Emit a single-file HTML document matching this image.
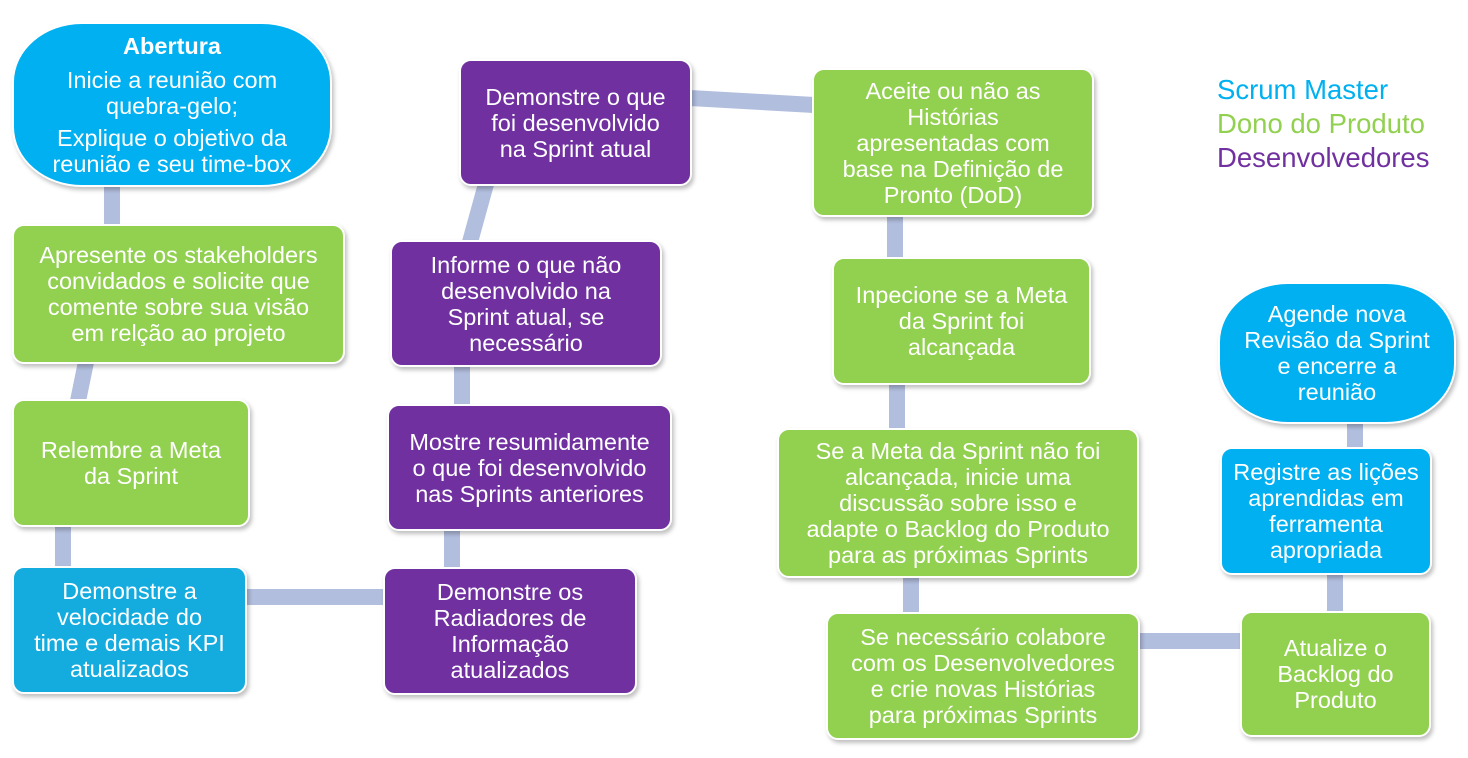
<!DOCTYPE html>
<html><head><meta charset="utf-8"><style>
body{margin:0;width:1468px;height:758px;background:#fff;position:relative;overflow:hidden;font-family:"Liberation Sans",sans-serif}
.b{position:absolute;box-sizing:border-box;display:flex;flex-direction:column;align-items:center;justify-content:center;text-align:center;color:#fff;font-size:23.5px;line-height:26px;border-radius:12px;box-shadow:2px 3px 4px rgba(0,0,0,.25);border:2px solid #fff;padding:0 4px;white-space:nowrap}
.g{background:#92D050}.p{background:#7030A0}.c{background:#00B0F0}.c2{background:#14ACDF}
.t{border-radius:70px/60px}
.l{position:absolute;font-size:27.5px;line-height:34px}
</style></head><body>
<svg width="1468" height="758" style="position:absolute;left:0;top:0">
<g stroke="#B2BEDE" stroke-width="16" fill="none">
<line x1="112" y1="185" x2="112" y2="226"/>
<line x1="86" y1="362" x2="78" y2="401"/>
<line x1="63" y1="525" x2="63" y2="568"/>
<line x1="245" y1="597" x2="385" y2="597"/>
<line x1="452" y1="529" x2="452" y2="569"/>
<line x1="462" y1="365" x2="462" y2="406"/>
<line x1="470" y1="242" x2="486" y2="184"/>
<line x1="690" y1="98" x2="814" y2="105"/>
<line x1="895" y1="215" x2="895" y2="259"/>
<line x1="897" y1="383" x2="897" y2="430"/>
<line x1="911" y1="576" x2="911" y2="614"/>
<line x1="1138" y1="641" x2="1242" y2="641"/>
<line x1="1335" y1="573" x2="1335" y2="613"/>
<line x1="1355" y1="422" x2="1355" y2="449"/>
</g></svg>
<div class="b c t" style="left:12px;top:22px;width:320px;height:165px"><b style="margin-bottom:8px">Abertura</b><div>Inicie a reunião com<br>quebra-gelo;</div><div style="margin-top:6px">Explique o objetivo da<br>reunião e seu time-box</div></div>
<div class="b g" style="left:12px;top:224px;width:333px;height:140px">Apresente os stakeholders<br>convidados e solicite que<br>comente sobre sua visão<br>em relção ao projeto</div>
<div class="b g" style="left:12px;top:399px;width:238px;height:128px">Relembre a Meta<br>da Sprint</div>
<div class="b c2" style="left:12px;top:566px;width:235px;height:128px">Demonstre a<br>velocidade do<br>time e demais KPI<br>atualizados</div>
<div class="b p" style="left:383px;top:567px;width:254px;height:128px">Demonstre os<br>Radiadores de<br>Informação<br>atualizados</div>
<div class="b p" style="left:387px;top:404px;width:285px;height:127px">Mostre resumidamente<br>o que foi desenvolvido<br>nas Sprints anteriores</div>
<div class="b p" style="left:390px;top:240px;width:272px;height:127px">Informe o que não<br>desenvolvido na<br>Sprint atual, se<br>necessário</div>
<div class="b p" style="left:459px;top:59px;width:233px;height:127px">Demonstre o que<br>foi desenvolvido<br>na Sprint atual</div>
<div class="b g" style="left:812px;top:68px;width:282px;height:149px">Aceite ou não as<br>Histórias<br>apresentadas com<br>base na Definição de<br>Pronto (DoD)</div>
<div class="b g" style="left:832px;top:257px;width:259px;height:128px">Inpecione se a Meta<br>da Sprint foi<br>alcançada</div>
<div class="b g" style="left:777px;top:428px;width:362px;height:150px">Se a Meta da Sprint não foi<br>alcançada, inicie uma<br>discussão sobre isso e<br>adapte o Backlog do Produto<br>para as próximas Sprints</div>
<div class="b g" style="left:826px;top:612px;width:314px;height:128px">Se necessário colabore<br>com os Desenvolvedores<br>e crie novas Histórias<br>para próximas Sprints</div>
<div class="b g" style="left:1240px;top:611px;width:191px;height:126px">Atualize o<br>Backlog do<br>Produto</div>
<div class="b c" style="left:1220px;top:447px;width:212px;height:128px">Registre as lições<br>aprendidas em<br>ferramenta<br>apropriada</div>
<div class="b c t" style="left:1218px;top:282px;width:238px;height:142px">Agende nova<br>Revisão da Sprint<br>e encerre a<br>reunião</div>
<div class="l" style="left:1217px;top:73px;color:#00B0F0">Scrum Master</div>
<div class="l" style="left:1217px;top:107px;color:#92D050">Dono do Produto</div>
<div class="l" style="left:1217px;top:141px;color:#7030A0">Desenvolvedores</div>
</body></html>
